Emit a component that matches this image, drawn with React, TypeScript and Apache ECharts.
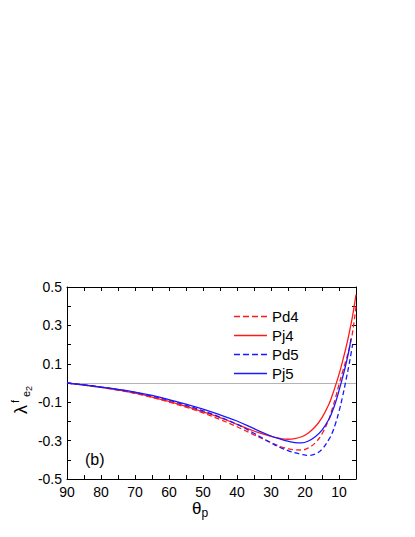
import React, { useEffect, useRef } from "react";
import * as echarts from "echarts";

const seriesNames = ["Pd4", "Pj4", "Pd5", "Pj5"];

const pd4: [number, number][] = [
  [90, 0], [85, -0.011], [80, -0.023], [75, -0.037], [70, -0.054], [65, -0.075],
  [60, -0.099], [55, -0.126], [50, -0.156], [45, -0.19], [40, -0.228], [35, -0.27],
  [30, -0.31], [27, -0.332], [25, -0.342], [23, -0.348], [21, -0.349], [19, -0.338],
  [17, -0.312], [15, -0.265], [13, -0.19], [12, -0.135], [11, -0.075], [10, -0.008],
  [9, 0.055], [8, 0.115], [7, 0.18], [6, 0.265], [5, 0.4],
];
const pj4: [number, number][] = [
  [90, 0], [85, -0.011], [80, -0.023], [75, -0.036], [70, -0.053], [65, -0.073],
  [60, -0.096], [55, -0.122], [50, -0.15], [45, -0.18], [40, -0.215], [35, -0.25],
  [30, -0.278], [27, -0.29], [25, -0.293], [23, -0.29], [21, -0.28], [19, -0.26],
  [17, -0.228], [15, -0.18], [13, -0.112], [12, -0.065], [11, -0.012], [10, 0.045],
  [9, 0.11], [8, 0.18], [7, 0.26], [6, 0.35], [5, 0.46],
];
const pd5: [number, number][] = [
  [90, 0], [85, -0.01], [80, -0.021], [75, -0.034], [70, -0.049], [65, -0.068],
  [60, -0.09], [55, -0.116], [50, -0.145], [45, -0.178], [40, -0.215], [35, -0.262],
  [30, -0.312], [27, -0.338], [25, -0.352], [23, -0.363], [21, -0.372], [19, -0.377],
  [17, -0.37], [15, -0.345], [13, -0.295], [12, -0.26], [11, -0.21], [10, -0.148],
  [9, -0.075], [8, 0.01], [7, 0.1], [6, 0.2],
];
const pj5: [number, number][] = [
  [90, 0], [85, -0.01], [80, -0.021], [75, -0.033], [70, -0.047], [65, -0.065],
  [60, -0.086], [55, -0.11], [50, -0.136], [45, -0.166], [40, -0.198], [35, -0.238],
  [30, -0.276], [27, -0.293], [25, -0.303], [23, -0.31], [21, -0.312], [19, -0.302],
  [17, -0.28], [15, -0.245], [13, -0.19], [12, -0.15], [11, -0.1], [10, -0.04],
  [9, 0.025], [8, 0.095], [7, 0.175], [6.5, 0.23],
];

const seriesData = [pd4, pj4, pd5, pj5];
const seriesColors = ["#ff1a1a", "#ff1a1a", "#1a1aff", "#1a1aff"];
const seriesDashed = [true, false, true, false];

const FONT = "'Liberation Sans', Arial, Helvetica, sans-serif";
const SOLID_ICON = "path://M0,0h33v1.4h-33z";
const DASH_ICON = "path://M0,0h6v1.4h-6zM9,0h6v1.4h-6zM18,0h6v1.4h-6zM27,0h6v1.4h-6z";

export default function App() {
  const ref = useRef<HTMLDivElement>(null);
  useEffect(() => {
    if (!ref.current) return;
    const chart = echarts.init(ref.current, undefined, { renderer: "svg" });
    const axisCommon = {
      axisLine: { show: true, onZero: false, lineStyle: { color: "#000", width: 1 } },
      axisTick: { show: true, inside: true, length: 4, lineStyle: { color: "#000", width: 1 } },
      splitLine: { show: false },
    };
    const xBase = {
      type: "value",
      inverse: true,
      min: 5,
      max: 90,
      interval: 5,
      ...axisCommon,
    };
    const yBase = {
      type: "value",
      min: -0.5,
      max: 0.5,
      interval: 0.1,
      ...axisCommon,
    };
    const series: any[] = seriesNames.map((name, i) => ({
      name,
      type: "line",
      data: seriesData[i],
      smooth: 0.4,
      showSymbol: false,
      symbol: "none",
      lineStyle: {
        color: seriesColors[i],
        width: 1.3,
        type: seriesDashed[i] ? [5, 3] : "solid",
      },
      itemStyle: { color: seriesColors[i] },
      z: 3,
    }));
    series[0].markLine = {
      silent: true,
      symbol: "none",
      label: { show: false },
      lineStyle: { color: "#b4b4b4", width: 1, type: "solid" },
      data: [{ yAxis: 0 }],
      z: 1,
    };
    chart.setOption({
      animation: false,
      backgroundColor: "#fff",
      textStyle: { fontFamily: FONT },
      grid: { left: 67, top: 287, width: 289, height: 192 },
      legend: {
        orient: "vertical",
        left: 234,
        top: 309,
        padding: 0,
        itemWidth: 33,
        itemHeight: 14,
        itemGap: 4,
        align: "left",
        symbolKeepAspect: true,
        itemStyle: { borderWidth: 0 },
        lineStyle: { width: 0 },
        data: seriesNames.map((name, i) => ({
          name,
          icon: seriesDashed[i] ? DASH_ICON : SOLID_ICON,
        })),
        textStyle: { fontSize: 15, color: "#000", fontFamily: FONT },
      },
      xAxis: [
        {
          ...xBase,
          position: "bottom",
          axisLabel: {
            show: true,
            color: "#000",
            fontSize: 14,
            fontFamily: FONT,
            margin: 6,
            formatter: (v: number) => (v % 10 === 0 ? String(v) : ""),
          },
        },
        { ...xBase, position: "top", axisLabel: { show: false } },
      ],
      yAxis: [
        {
          ...yBase,
          position: "left",
          axisLabel: {
            show: true,
            color: "#000",
            fontSize: 14,
            fontFamily: FONT,
            margin: 5,
            formatter: (v: number) => {
              const k = Math.round(v * 10);
              return Math.abs(k) % 2 === 1 ? (k / 10).toFixed(1) : "";
            },
          },
        },
        { ...yBase, position: "right", axisLabel: { show: false } },
      ],
      graphic: [
        {
          type: "text",
          x: 85,
          y: 459,
          style: { text: "(b)", font: `16px ${FONT}`, fill: "#000", verticalAlign: "middle", align: "left" },
        },
        {
          type: "text",
          x: 200,
          y: 508,
          style: {
            text: "{a|θ}{b|p}",
            fill: "#000",
            align: "center",
            verticalAlign: "middle",
            rich: {
              a: { fontSize: 17, fontFamily: FONT, lineHeight: 22, verticalAlign: "middle" },
              b: { fontSize: 12, fontFamily: FONT, lineHeight: 12, verticalAlign: "bottom" },
            },
          },
        },
        {
          type: "text",
          x: 21,
          y: 400,
          rotation: Math.PI / 2,
          style: {
            text: "{l|λ}{f|f}{e|e}{t|2}",
            fill: "#000",
            align: "center",
            verticalAlign: "middle",
            rich: {
              l: { fontSize: 18, fontFamily: FONT, lineHeight: 24, verticalAlign: "middle", padding: [0, 2, 0, 0] },
              f: { fontSize: 11, fontFamily: FONT, lineHeight: 11, verticalAlign: "top", padding: [0, 3, 0, 0] },
              e: { fontSize: 11, fontFamily: FONT, lineHeight: 11, verticalAlign: "bottom", padding: [0, 0, 2, 0] },
              t: { fontSize: 9, fontFamily: FONT, lineHeight: 9, verticalAlign: "bottom" },
            },
          },
        },
      ],
      series,
    });
    return () => chart.dispose();
  }, []);
  return (
    <div
      ref={ref}
      style={{ position: "fixed", left: 0, top: 0, width: 415, height: 537 }}
    />
  );
}
